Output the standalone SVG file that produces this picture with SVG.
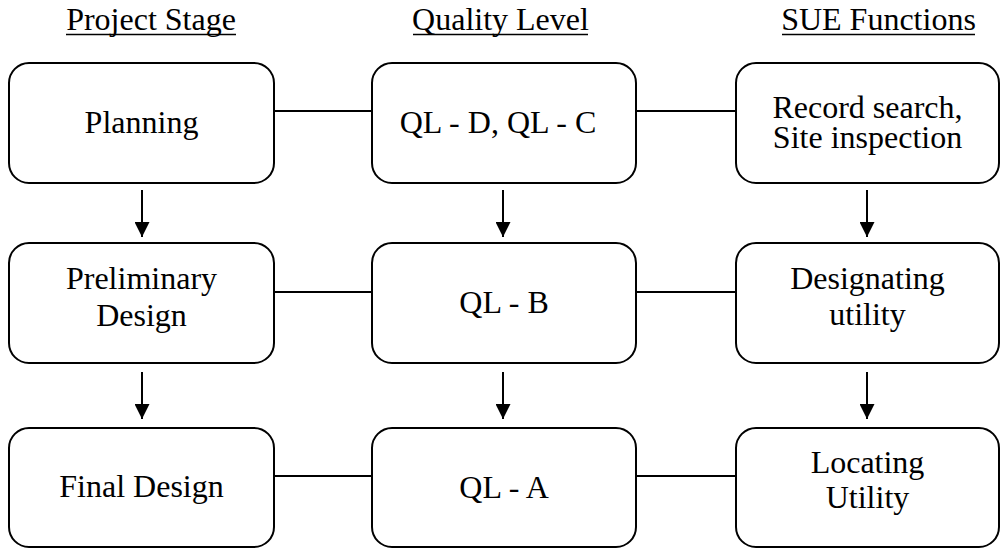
<svg xmlns="http://www.w3.org/2000/svg" width="1003" height="550" viewBox="0 0 1003 550">
<style>
text{font-size:32px;fill:#000;text-anchor:middle}
.box{fill:#fff;stroke:#000;stroke-width:2}
.ln{stroke:#000;stroke-width:2;fill:none}
.ul{stroke:#000;stroke-width:1.5}
</style>
<defs>
<marker id="ah" markerWidth="16" markerHeight="15" refX="16" refY="8" orient="auto" markerUnits="userSpaceOnUse" viewBox="0 0 16 16">
<path d="M0,0 L16,8 L0,16 Z" fill="#000"/>
</marker>
</defs>
<rect width="1003" height="550" fill="#fff"/>
<g font-family="Liberation Serif, serif">
<g id="headers">
<text x="151" y="30">Project Stage</text>
<line class="ul" x1="66" y1="34.5" x2="236" y2="34.5"/>
<text x="500.5" y="30">Quality Level</text>
<line class="ul" x1="413" y1="34.5" x2="588" y2="34.5"/>
<text x="878.5" y="30">SUE Functions</text>
<line class="ul" x1="782" y1="34.5" x2="975" y2="34.5"/>
</g>
<g id="connectors">
<line class="ln" x1="274" y1="111" x2="372" y2="111"/>
<line class="ln" x1="636" y1="111" x2="736" y2="111"/>
<line class="ln" x1="274" y1="292" x2="372" y2="292"/>
<line class="ln" x1="636" y1="292" x2="736" y2="292"/>
<line class="ln" x1="274" y1="476" x2="372" y2="476"/>
<line class="ln" x1="636" y1="476" x2="736" y2="476"/>
<line class="ln" x1="142" y1="190" x2="142" y2="237" marker-end="url(#ah)"/>
<line class="ln" x1="503" y1="190" x2="503" y2="237" marker-end="url(#ah)"/>
<line class="ln" x1="867" y1="190" x2="867" y2="237" marker-end="url(#ah)"/>
<line class="ln" x1="142" y1="372" x2="142" y2="419" marker-end="url(#ah)"/>
<line class="ln" x1="503" y1="372" x2="503" y2="419" marker-end="url(#ah)"/>
<line class="ln" x1="867" y1="372" x2="867" y2="419" marker-end="url(#ah)"/>
</g>
<g id="planning"><rect class="box" x="9" y="63" width="265" height="120" rx="20"/><text x="141.5" y="133">Planning</text></g>
<g id="ql-dc"><rect class="box" x="372" y="63" width="264" height="120" rx="20"/><text x="498" y="133">QL - D, QL - C</text></g>
<g id="record-search"><rect class="box" x="736" y="63" width="263" height="120" rx="20"/><text x="867.5" y="118">Record search,</text><text x="867.5" y="148">Site inspection</text></g>
<g id="preliminary-design"><rect class="box" x="9" y="243" width="265" height="120" rx="20"/><text x="141.5" y="289">Preliminary</text><text x="141.5" y="326">Design</text></g>
<g id="ql-b"><rect class="box" x="372" y="243" width="264" height="120" rx="20"/><text x="504" y="313">QL - B</text></g>
<g id="designating-utility"><rect class="box" x="736" y="243" width="263" height="120" rx="20"/><text x="867.5" y="289">Designating</text><text x="867.5" y="325">utility</text></g>
<g id="final-design"><rect class="box" x="9" y="428" width="265" height="119" rx="20"/><text x="141.5" y="497">Final Design</text></g>
<g id="ql-a"><rect class="box" x="372" y="428" width="264" height="119" rx="20"/><text x="504" y="498">QL - A</text></g>
<g id="locating-utility"><rect class="box" x="736" y="428" width="263" height="119" rx="20"/><text x="867.5" y="473">Locating</text><text x="867.5" y="508">Utility</text></g>
</g>
</svg>
